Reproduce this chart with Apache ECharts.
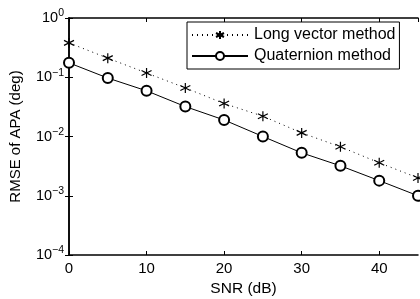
<!DOCTYPE html>
<html>
<head>
<meta charset="utf-8">
<script src="https://cdn.jsdelivr.net/npm/echarts@6/dist/echarts.min.js"></script>
<style>
  html, body { margin: 0; padding: 0; background: #fff; }
  #chart { width: 420px; height: 299px; }
</style>
</head>
<body>
<div id="chart"></div>
<script>
// SNR values (dB)
const snr = [0, 5, 10, 15, 20, 25, 30, 35, 40, 45];
// RMSE of APA (deg)
const longVector = [0.38, 0.21, 0.118, 0.066, 0.036, 0.022, 0.0115, 0.0067, 0.0036, 0.002];
const quaternion = [0.175, 0.097, 0.059, 0.032, 0.019, 0.010, 0.0053, 0.0032, 0.0018, 0.001];
const names = ['Long vector method', 'Quaternion method'];

const font = 'Liberation Sans, Arial, sans-serif';
const asterisk = 'path://M0,-10L0,10M-8.66,-5L8.66,5M-8.66,5L8.66,-5';

function pairs(ys) {
    return snr.map(function (x, i) { return [x, ys[i]]; });
}

function powLabel(v) {
    const e = Math.round(Math.log10(v));
    return '{b|10}{s|' + (e < 0 ? '\u2212' + (-e) : e) + '}';
}

const chart = echarts.init(document.getElementById('chart'));

chart.setOption({
    animation: false,
    textStyle: { fontFamily: font },
    grid: { left: 69, right: 2, top: 18, bottom: 44, outerBoundsMode: 'none' },
    legend: {
        left: 187, top: 22,
        orient: 'vertical',
        backgroundColor: '#fff',
        borderColor: '#000', borderWidth: 1,
        padding: [5, 4, 5, 4],
        itemGap: 5,
        itemWidth: 56, itemHeight: 10,
        textStyle: { fontSize: 16, color: '#000', fontFamily: font, padding: [0, 0, 0, 1] },
        data: names
    },
    xAxis: [{
        type: 'value', min: 0, max: 45, interval: 10,
        name: 'SNR (dB)', nameLocation: 'middle', nameGap: 24,
        nameTextStyle: { fontSize: 15.5, color: '#000' },
        axisLine: { lineStyle: { color: '#000', width: 1.5 } },
        axisTick: { inside: true, length: 4, lineStyle: { color: '#000' } },
        axisLabel: { color: '#000', fontSize: 15, showMaxLabel: false, margin: 6 },
        splitLine: { show: false }
    }, {
        type: 'value', min: 0, max: 45, interval: 10, position: 'top',
        axisLine: { lineStyle: { color: '#000', width: 1.5 } },
        axisTick: { inside: true, length: 4, lineStyle: { color: '#000' } },
        axisLabel: { show: false },
        splitLine: { show: false }
    }],
    yAxis: [{
        type: 'log', logBase: 10, min: 1e-4, max: 1,
        name: 'RMSE of APA (deg)', nameLocation: 'middle', nameGap: 46,
        nameTextStyle: { fontSize: 15, color: '#000' },
        axisLine: { lineStyle: { color: '#000', width: 1.5 } },
        axisTick: { inside: true, length: 4, lineStyle: { color: '#000' } },
        axisLabel: {
            color: '#000', margin: 5,
            formatter: powLabel,
            rich: {
                b: { fontSize: 14.5, color: '#000', fontFamily: font },
                s: { fontSize: 10.5, color: '#000', fontFamily: font, verticalAlign: 'bottom', padding: [0, 0, 9, 0] }
            }
        },
        splitLine: { show: false }
    }, {
        type: 'log', logBase: 10, min: 1e-4, max: 1, position: 'right',
        axisLine: { lineStyle: { color: '#000', width: 1.5 } },
        axisTick: { inside: true, length: 4, lineStyle: { color: '#000' } },
        axisLabel: { show: false },
        splitLine: { show: false }
    }],
    series: [{
        name: names[0],
        type: 'line',
        data: pairs(longVector),
        symbol: asterisk,
        symbolSize: 10,
        lineStyle: { color: '#000', width: 1, type: [1, 4] },
        itemStyle: { color: '#000', borderColor: '#000', borderWidth: 1.2 }
    }, {
        name: names[1],
        type: 'line',
        data: pairs(quaternion),
        symbol: 'emptyCircle',
        symbolSize: 10,
        lineStyle: { color: '#000', width: 1 },
        itemStyle: { color: '#000', borderColor: '#000', borderWidth: 1 }
    }]
});
</script>
</body>
</html>
